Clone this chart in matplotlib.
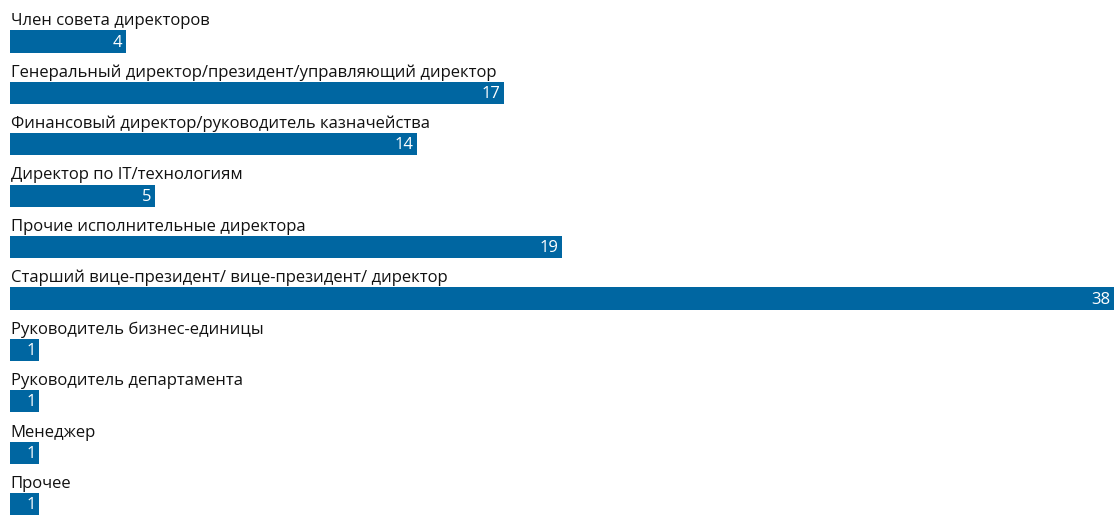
import matplotlib.pyplot as plt

# Respondents by position
positions = [
    "Член совета директоров",
    "Генеральный директор/президент/управляющий директор",
    "Финансовый директор/руководитель казначейства",
    "Директор по IT/технологиям",
    "Прочие исполнительные директора",
    "Старший вице-президент/ вице-президент/ директор",
    "Руководитель бизнес-единицы",
    "Руководитель департамента",
    "Менеджер",
    "Прочее",
]
counts = [4, 17, 14, 5, 19, 38, 1, 1, 1, 1]

BAR_COLOR = "#0066a1"
BAR_H = 0.43

plt.rcParams["font.family"] = ["Open Sans", "DejaVu Sans"]

fig = plt.figure(figsize=(11.14, 5.15), dpi=100)
ax = fig.add_axes([0, 0, 1, 1])

ypos = list(range(len(counts)))
ax.barh(ypos, counts, height=BAR_H, color=BAR_COLOR, left=0)

for y, name, v in zip(ypos, positions, counts):
    ax.text(0.03, y - BAR_H / 2 - 0.1, name, ha="left", va="baseline",
            fontsize=12, color="#111111")
    ax.text(v - 0.12, y + 0.02, str(v), ha="right", va="center",
            fontsize=12, color="white")

ax.set_xlim(-10 / 29.05, 38)
ax.set_ylim(9.212, -0.807)
ax.axis("off")

fig.savefig("out.png", dpi=100)
